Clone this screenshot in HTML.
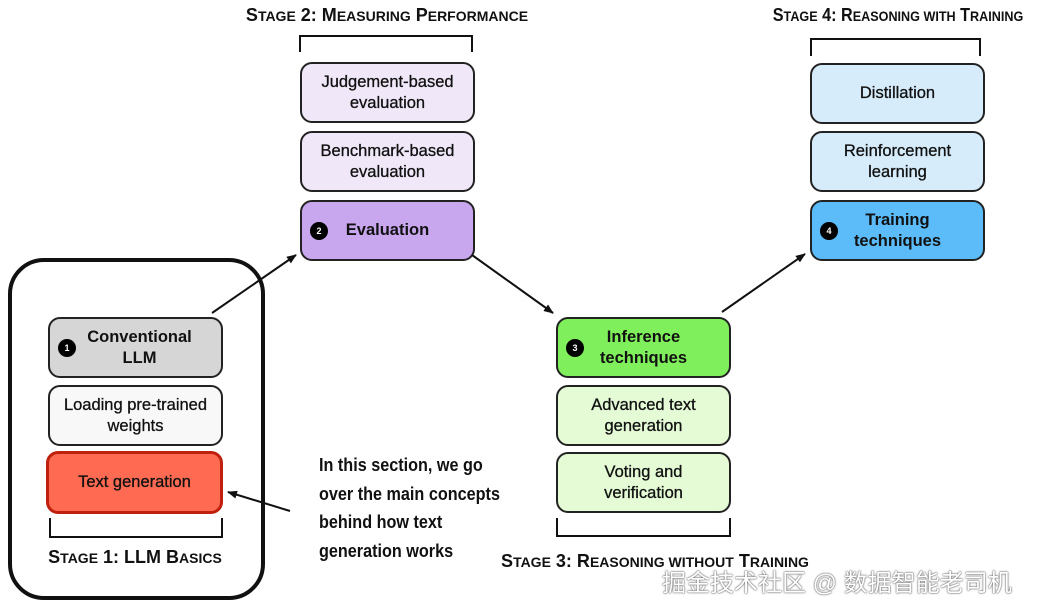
<!DOCTYPE html>
<html><head><meta charset="utf-8"><style>
body{margin:0;width:1042px;height:612px;background:#fff;position:relative;overflow:hidden;font-family:"Liberation Sans",Arial,sans-serif;}
.b{position:absolute;width:171px;height:57px;border:2px solid #222;border-radius:12px;box-sizing:content-box;display:flex;align-items:center;justify-content:center;text-align:center;font-size:16.5px;line-height:21px;color:#111;-webkit-text-stroke:0.3px #111;}
.bold{font-weight:bold;-webkit-text-stroke:0;}
.n{position:absolute;left:8px;top:20px;width:18px;height:18px;border-radius:50%;background:#000;color:#fff;font-size:9px;line-height:18px;text-align:center;font-weight:bold;-webkit-text-stroke:0;}
.lbl{position:absolute;font-family:"Liberation Sans",Arial,sans-serif;font-weight:bold;font-size:18px;color:#111;white-space:nowrap;transform:translateX(-50%);}
.lbl s{text-decoration:none;font-size:14px;}
.note{position:absolute;left:319px;top:451px;font-family:"Liberation Sans",sans-serif;font-weight:bold;font-size:18px;line-height:28.5px;color:#111;transform:scaleX(0.9);transform-origin:0 0;white-space:nowrap;}
.wm{position:absolute;left:662px;top:563px;font-family:"Liberation Sans","Noto Sans CJK SC",sans-serif;font-size:24px;color:#fff;text-shadow:0 0 2px #666,0 0 1px #333;white-space:nowrap;}
</style></head><body>
<div style="position:absolute;left:8px;top:258px;width:249px;height:334px;border:4px solid #111;border-radius:36px;"></div>

<div class="b bold" style="left:48px;top:317px;background:#d6d6d6;"><span class="n">1</span><span style="padding-left:8px">Conventional<br>LLM</span></div>
<div class="b" style="left:48px;top:385px;background:#f8f8f8;">Loading pre-trained<br>weights</div>
<div class="b" style="left:46px;top:451px;background:#fe6a52;border:3px solid #c0200e;">Text generation</div>

<div class="b" style="left:300px;top:62px;background:#f0e8f9;">Judgement-based<br>evaluation</div>
<div class="b" style="left:300px;top:131px;background:#f0e8f9;">Benchmark-based<br>evaluation</div>
<div class="b bold" style="left:300px;top:200px;background:#c9a7ef;"><span class="n">2</span>Evaluation</div>

<div class="b bold" style="left:556px;top:317px;background:#7ff05b;"><span class="n">3</span>Inference<br>techniques</div>
<div class="b" style="left:556px;top:385px;background:#e4fbd6;">Advanced text<br>generation</div>
<div class="b" style="left:556px;top:452px;background:#e4fbd6;">Voting and<br>verification</div>

<div class="b" style="left:810px;top:63px;background:#d6ecfb;">Distillation</div>
<div class="b" style="left:810px;top:131px;background:#d6ecfb;">Reinforcement<br>learning</div>
<div class="b bold" style="left:810px;top:200px;background:#5bbcf9;"><span class="n">4</span>Training<br>techniques</div>

<svg width="1042" height="612" style="position:absolute;left:0;top:0">
<defs><marker id="a" markerWidth="10" markerHeight="8" refX="9" refY="4" orient="auto" markerUnits="userSpaceOnUse"><path d="M0,0 L10,4 L0,8 z" fill="#111"/></marker></defs>
<g stroke="#111" stroke-width="2" fill="none">
<path d="M50,518 V537 H222 V518"/>
<path d="M300,52 V36 H472 V52"/>
<path d="M557,518 V536 H730 V518"/>
<path d="M811,56 V39 H980 V56"/>
<line x1="212" y1="313" x2="296" y2="255" marker-end="url(#a)"/>
<line x1="472" y1="255" x2="553" y2="313" marker-end="url(#a)"/>
<line x1="722" y1="312" x2="805" y2="254" marker-end="url(#a)"/>
<line x1="290" y1="511" x2="228" y2="492" marker-end="url(#a)"/>
</g></svg>

<div class="lbl" style="left:135px;top:547px;">S<s>TAGE</s> 1: LLM B<s>ASICS</s></div>
<div class="lbl" style="left:387px;top:5px;">S<s>TAGE</s> 2: M<s>EASURING</s> P<s>ERFORMANCE</s></div>
<div class="lbl" style="left:655px;top:551px;">S<s>TAGE</s> 3: R<s>EASONING WITHOUT</s> T<s>RAINING</s></div>
<div class="lbl" style="left:898px;top:5px;transform:translateX(-50%) scaleX(0.9);">S<s>TAGE</s> 4: R<s>EASONING WITH</s> T<s>RAINING</s></div>

<div class="note">In this section, we go<br>over the main concepts<br>behind how text<br>generation works</div>
<div class="wm">掘金技术社区 @ 数据智能老司机</div>
</body></html>
